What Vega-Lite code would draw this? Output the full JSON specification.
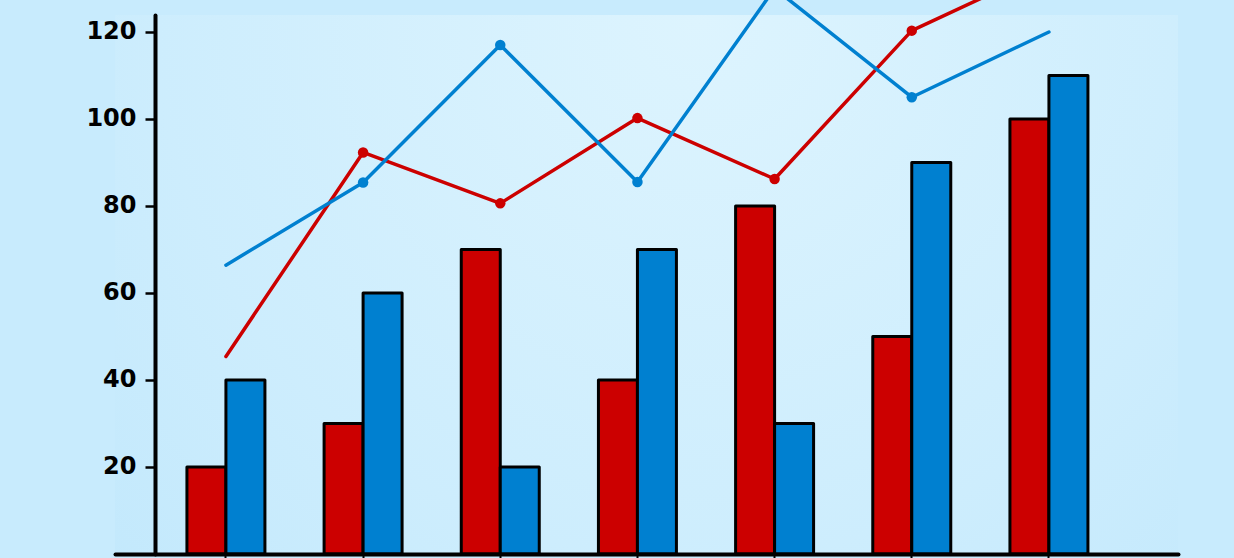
{
  "$schema": "https://vega.github.io/schema/vega-lite/v6.json",
  "width": 1063,
  "height": 539,
  "autosize": "none",
  "padding": {"left": 115, "top": 15, "right": 56, "bottom": 4},
  "background": "#c8ebfd",
  "config": {
    "view": {"stroke": null},
    "axis": {
      "domainColor": "#000000",
      "domainCap": "round",
      "tickColor": "#000000",
      "grid": false,
      "title": null
    }
  },
  "datasets": {
    "bars": [
      {"group": 1, "series": "red", "value": 20},
      {"group": 1, "series": "blue", "value": 40},
      {"group": 2, "series": "red", "value": 30},
      {"group": 2, "series": "blue", "value": 60},
      {"group": 3, "series": "red", "value": 70},
      {"group": 3, "series": "blue", "value": 20},
      {"group": 4, "series": "red", "value": 40},
      {"group": 4, "series": "blue", "value": 70},
      {"group": 5, "series": "red", "value": 80},
      {"group": 5, "series": "blue", "value": 30},
      {"group": 6, "series": "red", "value": 50},
      {"group": 6, "series": "blue", "value": 90},
      {"group": 7, "series": "red", "value": 100},
      {"group": 7, "series": "blue", "value": 110}
    ],
    "lines": [
      {"group": 1, "series": "red", "value": 45.4},
      {"group": 2, "series": "red", "value": 92.3},
      {"group": 3, "series": "red", "value": 80.6},
      {"group": 4, "series": "red", "value": 100.2},
      {"group": 5, "series": "red", "value": 86.2},
      {"group": 6, "series": "red", "value": 120.3},
      {"group": 7, "series": "red", "value": 135},
      {"group": 1, "series": "blue", "value": 66.4},
      {"group": 2, "series": "blue", "value": 85.4},
      {"group": 3, "series": "blue", "value": 117},
      {"group": 4, "series": "blue", "value": 85.5},
      {"group": 5, "series": "blue", "value": 130},
      {"group": 6, "series": "blue", "value": 105},
      {"group": 7, "series": "blue", "value": 120}
    ]
  },
  "encoding": {
    "x": {
      "field": "group",
      "type": "ordinal",
      "scale": {"paddingInner": 0.4314, "paddingOuter": 0.5905, "align": 0.444},
      "axis": {
        "labels": false,
        "domainWidth": 4,
        "tickSize": 5,
        "tickWidth": 2,
        "zindex": 2
      }
    },
    "y": {
      "field": "value",
      "type": "quantitative",
      "scale": {"domain": [0, 123.9], "nice": false},
      "axis": {
        "values": [20, 40, 60, 80, 100, 120],
        "offset": -40,
        "domainWidth": 4,
        "tickSize": 10,
        "tickWidth": 2.5,
        "labelFont": "DejaVu Sans",
        "labelFontSize": 24,
        "labelFontWeight": "bold",
        "labelColor": "#000000",
        "labelPadding": 9,
        "zindex": 2
      }
    },
    "color": {
      "field": "series",
      "type": "nominal",
      "scale": {"domain": ["red", "blue"], "range": ["#cc0000", "#0080d0"]},
      "legend": null
    }
  },
  "layer": [
    {
      "data": {"values": [{}]},
      "mark": {
        "type": "rect",
        "color": {
          "gradient": "radial",
          "x1": 0.55, "y1": 0.25, "r1": 0,
          "x2": 0.55, "y2": 0.25, "r2": 0.85,
          "stops": [
            {"offset": 0, "color": "#ddf4fe"},
            {"offset": 0.6, "color": "#cdedfd"},
            {"offset": 1, "color": "#bfe7fc"}
          ]
        }
      },
      "encoding": {"x": null, "y": null, "color": null}
    },
    {
      "data": {"name": "bars"},
      "mark": {"type": "bar", "stroke": "#000000", "strokeWidth": 3, "strokeJoin": "round"},
      "encoding": {
        "xOffset": {
          "field": "series",
          "type": "nominal",
          "sort": ["red", "blue"],
          "scale": {"paddingInner": 0, "paddingOuter": 0}
        },
        "stroke": {"value": "#000000"}
      }
    },
    {
      "data": {"name": "lines"},
      "mark": {"type": "line", "strokeWidth": 3.5, "strokeCap": "round", "strokeJoin": "round"},
      "encoding": {"detail": {"field": "series"}}
    },
    {
      "data": {"name": "lines"},
      "transform": [{"filter": "datum.group > 1 && datum.group < 7"}],
      "mark": {"type": "point", "filled": true, "opacity": 1, "size": 110},
      "encoding": {}
    }
  ]
}
